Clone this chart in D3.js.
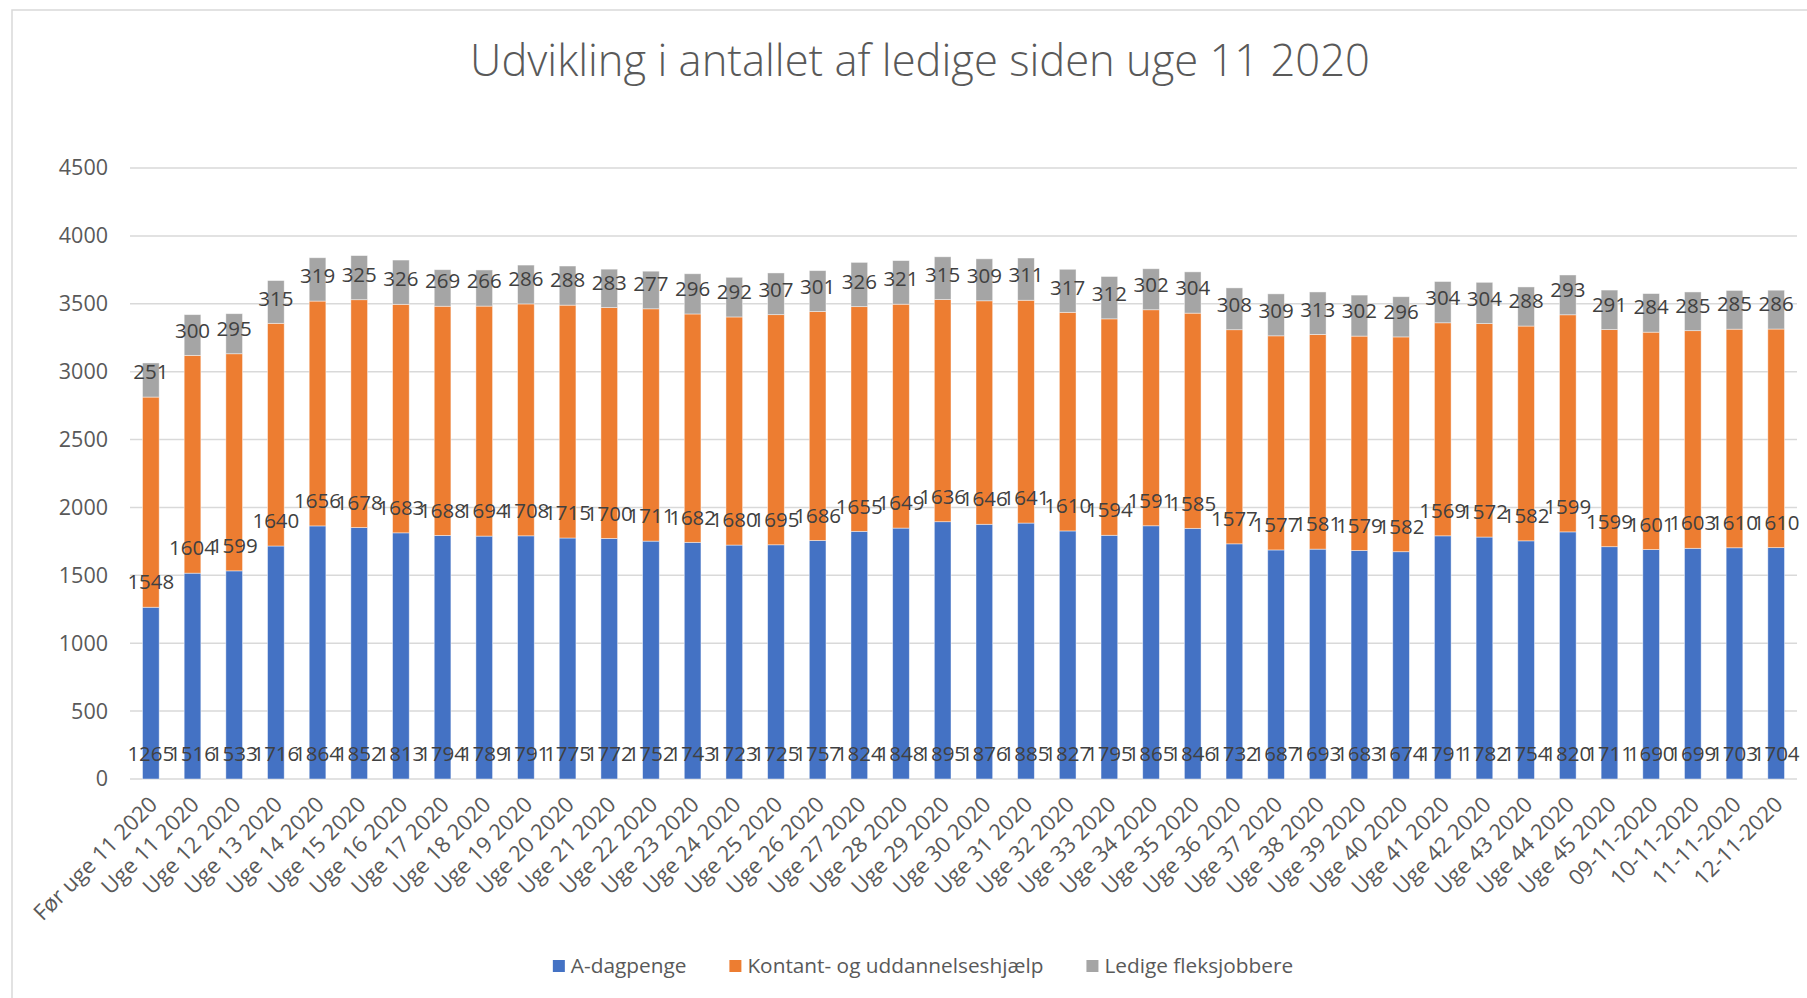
<!DOCTYPE html>
<html>
<head>
<meta charset="utf-8">
<script src="https://cdn.jsdelivr.net/npm/d3@7"></script>
<style>
  html, body { margin: 0; padding: 0; background: #fff; }
  svg { display: block; }
  text { font-family: "Open Sans", "Liberation Sans", sans-serif; }
</style>
</head>
<body>
<svg id="chart" width="1807" height="998"></svg>
<script>
const title = "Udvikling i antallet af ledige siden uge 11 2020";
const categories = [
  "Før uge 11 2020","Uge 11 2020","Uge 12 2020","Uge 13 2020","Uge 14 2020","Uge 15 2020",
  "Uge 16 2020","Uge 17 2020","Uge 18 2020","Uge 19 2020","Uge 20 2020","Uge 21 2020",
  "Uge 22 2020","Uge 23 2020","Uge 24 2020","Uge 25 2020","Uge 26 2020","Uge 27 2020",
  "Uge 28 2020","Uge 29 2020","Uge 30 2020","Uge 31 2020","Uge 32 2020","Uge 33 2020",
  "Uge 34 2020","Uge 35 2020","Uge 36 2020","Uge 37 2020","Uge 38 2020","Uge 39 2020",
  "Uge 40 2020","Uge 41 2020","Uge 42 2020","Uge 43 2020","Uge 44 2020","Uge 45 2020",
  "09-11-2020","10-11-2020","11-11-2020","12-11-2020"
];
const seriesNames = ["A-dagpenge", "Kontant- og uddannelseshjælp", "Ledige fleksjobbere"];
const aDagpenge = [1265,1516,1533,1716,1864,1852,1813,1794,1789,1791,1775,1772,1752,1743,1723,1725,1757,1824,1848,1895,1876,1885,1827,1795,1865,1846,1732,1687,1693,1683,1674,1791,1782,1754,1820,1711,1690,1699,1703,1704];
const kontant = [1548,1604,1599,1640,1656,1678,1683,1688,1694,1708,1715,1700,1711,1682,1680,1695,1686,1655,1649,1636,1646,1641,1610,1594,1591,1585,1577,1577,1581,1579,1582,1569,1572,1582,1599,1599,1601,1603,1610,1610];
const fleks = [251,300,295,315,319,325,326,269,266,286,288,283,277,296,292,307,301,326,321,315,309,311,317,312,302,304,308,309,313,302,296,304,304,288,293,291,284,285,285,286];
const yTicks = [0,500,1000,1500,2000,2500,3000,3500,4000,4500];
const colors = ["#4472C4", "#ED7D31", "#A5A5A5"];

const svg = d3.select("#chart");
const W = 1807, H = 998;
const plot = { left: 130, right: 1797, top: 168, bottom: 779 };

// chart border
svg.append("rect").attr("x", 12).attr("y", 10).attr("width", W).attr("height", H)
  .attr("fill", "none").attr("stroke", "#d9d9d9").attr("stroke-width", 1.5);

// title
const t = svg.append("text").attr("x", 920).attr("y", 76)
  .attr("text-anchor", "middle").attr("fill", "#595959")
  .style("font-size", "40px").style("font-weight", 300).text(title);
const tw = t.node().getComputedTextLength();
t.style("font-size", (40 * 900 / tw).toFixed(2) + "px");

const x = d3.scaleBand().domain(categories).range([plot.left, plot.right]).paddingInner(0.6).paddingOuter(0.3);
const y = d3.scaleLinear().domain([0, 4500]).range([plot.bottom, plot.top]);

// gridlines
svg.append("g").selectAll("line").data(yTicks).join("line")
  .attr("x1", plot.left).attr("x2", plot.right)
  .attr("y1", d => y(d)).attr("y2", d => y(d))
  .attr("stroke", "#d9d9d9").attr("stroke-width", 1.5);

// y axis labels
const yAxis = d3.axisLeft(y).tickValues(yTicks).tickSize(0).tickPadding(0).tickFormat(d3.format("d"));
const yg = svg.append("g").attr("transform", `translate(${plot.left - 22},0)`).call(yAxis);
yg.select(".domain").remove();
yg.selectAll("text").attr("fill", "#595959").style("font-size", "21.5px").attr("font-family", null);

// stacked data
const rows = categories.map((c, i) => ({ cat: c, s0: aDagpenge[i], s1: kontant[i], s2: fleks[i] }));
const stack = d3.stack().keys(["s0", "s1", "s2"])(rows);

const layers = svg.append("g").selectAll("g").data(stack).join("g")
  .attr("fill", (d, i) => colors[i]);
layers.selectAll("rect").data(d => d).join("rect")
  .attr("x", d => x(d.data.cat))
  .attr("width", x.bandwidth())
  .attr("y", d => y(d[1]))
  .attr("height", d => y(d[0]) - y(d[1]))
  .attr("stroke", "rgba(255,255,255,0.55)").attr("stroke-width", 0.8);

// data labels (inside base)
const labelG = svg.append("g");
stack.forEach((layer, li) => {
  labelG.append("g").selectAll("text").data(layer).join("text")
    .attr("x", d => x(d.data.cat) + x.bandwidth() / 2)
    .attr("y", d => y(d[0]) - 25)
    .attr("dy", "0.35em")
    .attr("text-anchor", "middle")
    .attr("fill", "#404040")
    .style("font-size", "20.5px")
    .text(d => d[1] - d[0]);
});

// x axis labels
const xAxis = d3.axisBottom(x).tickSize(0).tickPadding(0);
const xg = svg.append("g").attr("transform", `translate(0,${plot.bottom})`).call(xAxis);
xg.select(".domain").remove();
xg.selectAll("text")
  .attr("fill", "#595959").style("font-size", "22px").attr("font-family", null)
  .attr("text-anchor", "end")
  .attr("y", 0).attr("dy", "0.7em")
  .attr("transform", "translate(-3,16) rotate(-45)");

// legend
const legend = svg.append("g");
const items = legend.selectAll("g").data(seriesNames).join("g");
items.append("rect").attr("width", 12).attr("height", 12).attr("y", -6).attr("fill", (d, i) => colors[i]);
items.append("text").attr("x", 18).attr("dy", "0.35em").attr("fill", "#595959")
  .style("font-size", "20.8px").text(d => d);
const gap = 43; const widths = [];
items.each(function () { widths.push(18 + d3.select(this).select("text").node().getComputedTextLength()); });
const total = d3.sum(widths) + gap * (widths.length - 1);
let cx = 923 - total / 2;
items.attr("transform", (d, i) => { const tx = cx; cx += widths[i] + gap; return `translate(${tx},966)`; });
</script>
</body>
</html>
